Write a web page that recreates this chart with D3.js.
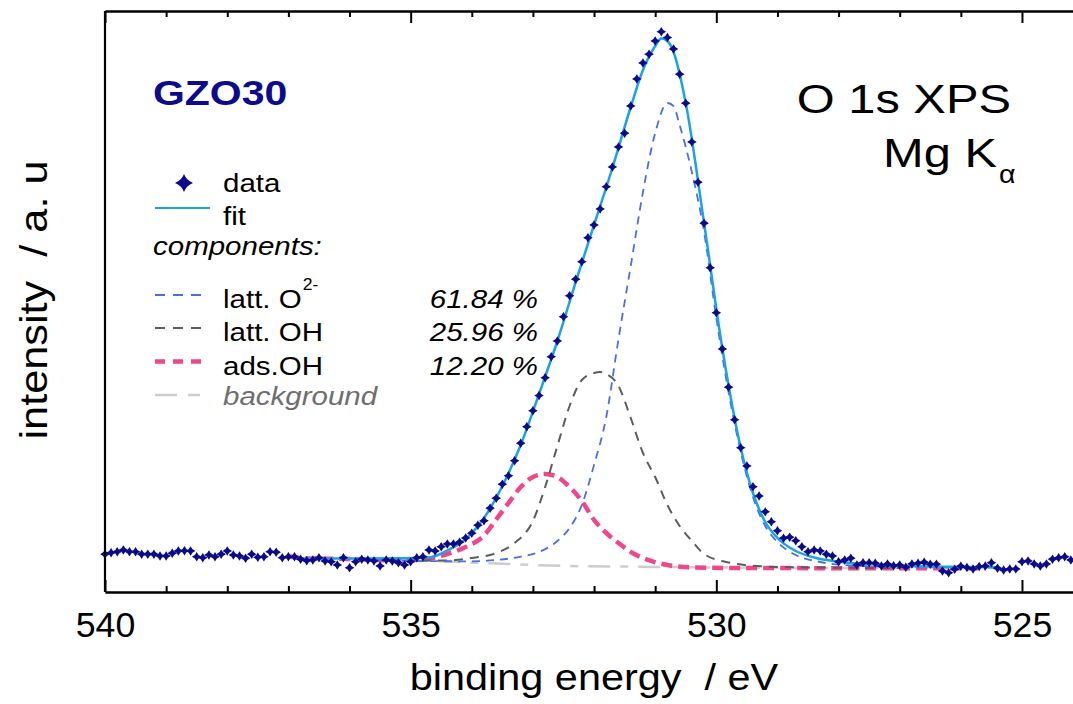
<!DOCTYPE html>
<html>
<head>
<meta charset="utf-8">
<script src="https://cdn.jsdelivr.net/npm/d3@7"></script>
<style>
  body { margin: 0; background: #fff; }
  svg { display: block; }
  text { font-family: "Liberation Sans", Arial, sans-serif; }
</style>
</head>
<body>
<div class="chart"></div>
<script>
// measured spectrum, binding energy in eV, intensity in a.u.
var dataEnergy = [
  540.0,539.9,539.8,539.7,539.6,539.5,539.4,539.3,539.2,539.1,
  539.0,538.9,538.8,538.7,538.6,538.5,538.4,538.3,538.2,538.1,
  538.0,537.9,537.8,537.7,537.6,537.5,537.4,537.3,537.2,537.1,
  537.0,536.9,536.8,536.7,536.6,536.5,536.4,536.3,536.2,536.1,
  536.0,535.9,535.8,535.7,535.6,535.5,535.4,535.3,535.2,535.1,
  535.0,534.9,534.8,534.7,534.6,534.5,534.4,534.3,534.2,534.1,
  534.0,533.9,533.8,533.7,533.6,533.5,533.4,533.3,533.2,533.1,
  533.0,532.9,532.8,532.7,532.6,532.5,532.4,532.3,532.2,532.1,
  532.0,531.9,531.8,531.7,531.6,531.5,531.4,531.3,531.2,531.1,
  531.0,530.9,530.8,530.7,530.6,530.5,530.4,530.3,530.2,530.1,
  530.0,529.9,529.8,529.7,529.6,529.5,529.4,529.3,529.2,529.1,
  529.0,528.9,528.8,528.7,528.6,528.5,528.4,528.3,528.2,528.1,
  528.0,527.9,527.8,527.7,527.6,527.5,527.4,527.3,527.2,527.1,
  527.0,526.9,526.8,526.7,526.6,526.5,526.4,526.3,526.2,526.1,
  526.0,525.9,525.8,525.7,525.6,525.5,525.4,525.3,525.2,525.1,
  525.0,524.9,524.8,524.7,524.6,524.5,524.4,524.3,524.2
];
var dataIntensity = [
  3.77,3.93,4.03,4.20,4.03,4.03,3.77,3.77,3.77,3.60,
  3.60,3.87,4.10,4.13,4.10,3.53,3.43,3.70,3.53,3.77,
  4.10,3.70,3.60,3.37,3.77,3.47,3.53,4.03,3.97,3.43,
  3.53,3.53,3.27,3.13,3.20,3.43,3.10,3.03,2.70,3.43,
  2.43,3.03,3.27,3.20,3.10,2.60,3.20,3.10,2.93,2.70,
  3.03,3.43,3.53,4.20,4.10,4.53,4.80,4.80,4.97,5.40,
  5.87,6.67,7.13,8.37,9.37,10.77,11.63,13.13,14.87,16.53,
  18.13,19.65,21.43,23.53,25.10,27.53,29.63,31.27,33.03,35.43,
  36.70,38.30,40.53,42.50,44.50,45.87,48.60,51.30,52.90,53.77,
  55.10,56.03,55.45,54.30,51.77,48.87,45.00,40.97,36.87,32.43,
  27.93,24.30,20.47,17.23,14.43,12.60,10.53,9.60,8.03,7.03,
  6.13,5.37,5.47,5.13,4.53,4.03,4.20,4.10,3.77,3.60,
  3.03,3.20,3.37,2.70,2.93,2.93,2.87,2.60,2.80,2.63,
  2.70,2.47,2.80,2.87,2.97,2.77,2.77,2.10,1.93,2.27,
  2.57,2.45,2.30,2.55,2.60,2.93,2.37,2.20,2.30,2.30,
  3.03,3.10,2.80,2.60,2.80,3.27,3.43,3.53,3.20
];

// fit envelope
var fitEnergy    = [536.8,536.0,535.2,534.7,534.4,534.1,533.8,533.5,533.2,532.9,532.6,532.3,532.0,531.7,531.4,531.2,531.0,530.9,530.8,530.7,530.5,530.2,529.9,529.6,529.4,529.2,529.0,528.7,528.4,528.0,527.5,527.0,526.0,525.4];
var fitIntensity = [3.35,3.35,3.38,3.45,4.15,5.3,7.4,10.6,14.7,19.8,25.1,31.0,36.7,42.4,48.5,52.2,54.6,55.35,55.1,54.0,48.9,36.9,24.3,14.4,9.9,7.0,5.4,4.1,3.45,3.03,2.77,2.63,2.51,2.47];

// components
var lattOEnergy    = [535.6,534.6,534.0,533.6,533.2,532.9,532.6,532.4,532.2,532.0,531.8,531.6,531.4,531.2,531.0,530.8,530.7,530.6,530.4,530.2,530.0,529.8,529.6,529.4,529.2,529.0,528.7,528.3,527.8,527.0,526.2];
var lattOIntensity = [3.2,3.08,3.07,3.2,3.53,4.0,5.1,6.4,8.7,12.7,17.5,25.3,32.6,40.0,45.9,48.9,48.6,46.7,42.0,36.0,27.4,20.0,14.0,9.5,6.6,5.0,3.7,3.0,2.65,2.5,2.45];

var lattOHEnergy    = [535.6,534.8,534.4,534.0,533.6,533.3,533.0,532.8,532.6,532.4,532.2,532.0,531.9,531.8,531.6,531.4,531.2,531.0,530.8,530.6,530.4,530.2,529.8,529.2,528.4,527.0];
var lattOHIntensity = [3.22,3.15,3.15,3.4,3.9,4.9,7.1,10.5,14.6,18.6,21.2,21.9,22.0,21.8,20.6,17.4,13.9,11.5,8.7,6.6,5.1,3.8,2.95,2.55,2.45,2.4];

var adsOHEnergy    = [537.0,536.6,536.0,535.2,534.8,534.4,534.1,533.8,533.6,533.4,533.2,533.0,532.8,532.6,532.4,532.2,532.0,531.8,531.6,531.4,531.2,530.8,530.4,529.6,525.6];
var adsOHIntensity = [3.55,3.35,3.3,3.15,3.25,3.8,4.5,5.65,7.26,8.9,10.5,11.5,11.8,11.5,10.5,9.1,7.2,5.9,4.9,4.0,3.4,2.7,2.47,2.4,2.37];

var bgEnergy    = [537.0,536.0,535.0,534.4,533.6,533.0,532.4,531.6,530.8,530.0,528.0,525.4];
var bgIntensity = [3.4,3.3,3.15,3.05,2.85,2.7,2.6,2.55,2.5,2.45,2.4,2.4];

var majorTicks = [540, 535, 530, 525];
var minorTicks = [539,538,537,536,534,533,532,531,529,528,527,526,524];

var legendRows = ['latt. O', 'latt. OH', 'ads.OH', 'background'];
var legendShares = ['61.84 %', '25.96 %', '12.20 %'];

var width = 1073, height = 704;
var SX = 1.2; // the reference font runs wider than Arial

var svg = d3.select('.chart')
  .append('svg')
  .attr('width', width)
  .attr('height', height);

var xScale = d3.scaleLinear().domain([540, 524]).range([105, 1083.1]);
var yScale = d3.scaleLinear().domain([0, 58.1]).range([592, 11]);

var zip = (es, is) => es.map((e, i) => ({ e: e, v: is[i] }));

var line = d3.line()
  .x(d => xScale(d.e))
  .y(d => yScale(d.v))
  .curve(d3.curveMonotoneX);

function txt(parent, x, y, str, size, o) {
  o = o || {};
  return parent.append('text')
    .attr('transform', `translate(${x},${y})${o.rotate ? ' rotate(' + o.rotate + ')' : ''} scale(${o.sx || SX},1)`)
    .attr('font-size', size)
    .attr('text-anchor', o.anchor || 'start')
    .attr('font-style', o.italic ? 'italic' : null)
    .attr('font-weight', o.bold ? 'bold' : null)
    .attr('fill', o.fill || '#000')
    .style('white-space', 'pre')
    .text(str);
}

// curves
var colors = { fit: '#1ba1e6', lattO: '#4a6fe3', lattOH: '#5c5c5c', adsOH: '#f0468c', bg: '#cdcdcd', data: '#0a0a8a' };

svg.append('path').attr('d', line(zip(bgEnergy, bgIntensity)))
  .attr('fill', 'none').attr('stroke', colors.bg).attr('stroke-width', 2.5)
  .attr('stroke-dasharray', '22,10,8,10');
svg.append('path').attr('d', line(zip(adsOHEnergy, adsOHIntensity)))
  .attr('fill', 'none').attr('stroke', colors.adsOH).attr('stroke-width', 4.5)
  .attr('stroke-dasharray', '11,6');
svg.append('path').attr('d', line(zip(lattOHEnergy, lattOHIntensity)))
  .attr('fill', 'none').attr('stroke', colors.lattOH).attr('stroke-width', 2)
  .attr('stroke-dasharray', '9,7');
svg.append('path').attr('d', line(zip(lattOEnergy, lattOIntensity)))
  .attr('fill', 'none').attr('stroke', colors.lattO).attr('stroke-width', 1.8)
  .attr('stroke-dasharray', '8,6');
svg.append('path').attr('d', line(zip(fitEnergy, fitIntensity)))
  .attr('fill', 'none').attr('stroke', colors.fit).attr('stroke-width', 2.5);

function star(r) {
  var a = r * 0.28;
  return `M0,${-r}Q${a},${-a} ${r},0Q${a},${a} 0,${r}Q${-a},${a} ${-r},0Q${-a},${-a} 0,${-r}Z`;
}

svg.selectAll('.pt')
  .data(zip(dataEnergy, dataIntensity))
  .enter()
  .append('path')
  .attr('class', 'pt')
  .attr('transform', d => `translate(${xScale(d.e)},${yScale(d.v)})`)
  .attr('d', star(4.8))
  .attr('fill', colors.data);

// axes
var bottomAxis = svg.append('g').attr('transform', 'translate(0,592)');
bottomAxis.call(d3.axisBottom(xScale).tickValues(majorTicks).tickSize(-12).tickSizeOuter(0).tickPadding(20).tickFormat(d3.format('d')));
bottomAxis.append('g').call(d3.axisBottom(xScale).tickValues(minorTicks).tickSize(-6).tickSizeOuter(0).tickFormat(''));

var topAxis = svg.append('g').attr('transform', 'translate(0,11)');
topAxis.call(d3.axisTop(xScale).tickValues(majorTicks).tickSize(-12).tickSizeOuter(0).tickFormat(''));
topAxis.append('g').call(d3.axisTop(xScale).tickValues(minorTicks).tickSize(-6).tickSizeOuter(0).tickFormat(''));

svg.selectAll('.domain').attr('stroke', '#000').attr('stroke-width', 2.2);
svg.selectAll('.tick line').attr('stroke', '#000').attr('stroke-width', 2);
bottomAxis.selectAll('.tick text')
  .attr('font-size', 35)
  .attr('font-family', '"Liberation Sans", Arial, sans-serif')
  .attr('fill', '#000')
  .attr('transform', 'scale(1.02,1)');

svg.append('line')
  .attr('x1', 105).attr('x2', 105).attr('y1', 11).attr('y2', 592)
  .attr('stroke', '#000').attr('stroke-width', 2.2);

// axis titles
txt(svg, 594, 690, 'binding energy  / eV', 37, { anchor: 'middle', sx: 1.12 });
txt(svg, 47, 300, 'intensity  / a. u', 39, { anchor: 'middle', rotate: -90, sx: 1.11 });

// annotations
txt(svg, 1011, 113, 'O 1s XPS', 40, { anchor: 'end', sx: 1.22 });
txt(svg, 997, 167, 'Mg K', 40, { anchor: 'end', sx: 1.22 });
txt(svg, 999, 183, '\u03b1', 26, { sx: 1.1 });
txt(svg, 153, 105, 'GZO30', 35, { bold: true, fill: '#0b0b8e', sx: 1.17 });

// legend
var leg = svg.append('g');
leg.append('path').attr('transform', 'translate(184,183)').attr('d', star(9)).attr('fill', colors.data);
txt(leg, 223, 192, 'data', 25, { sx: 1.18 });
leg.append('line').attr('x1', 155).attr('x2', 210).attr('y1', 208).attr('y2', 208)
  .attr('stroke', colors.fit).attr('stroke-width', 2);
txt(leg, 223, 225, 'fit', 25, { sx: 1.18 });
txt(leg, 153, 255, 'components:', 25, { italic: true, sx: 1.18 });

var rowY = [295, 328, 361.5, 395];
var rowStyle = [
  { c: colors.lattO, w: 2, dash: '10,8' },
  { c: colors.lattOH, w: 2, dash: '10,8' },
  { c: colors.adsOH, w: 4.5, dash: '10,8' },
  { c: colors.bg, w: 2.5, dash: '22,11,12,11' }
];
var firstLabel;
legendRows.forEach((name, i) => {
  var s = rowStyle[i];
  leg.append('line').attr('x1', 155).attr('x2', 202).attr('y1', rowY[i]).attr('y2', rowY[i])
    .attr('stroke', s.c).attr('stroke-width', s.w).attr('stroke-dasharray', s.dash);
  var bg = i === 3;
  var t = txt(leg, 223, rowY[i] + (bg ? 10 : 13), name, 25, { sx: 1.18, italic: bg, fill: bg ? '#6e6e6e' : '#000' });
  if (i === 0) firstLabel = t;
  if (i < legendShares.length) {
    txt(leg, 538, rowY[i] + 13, legendShares[i], 25, { anchor: 'end', italic: true, sx: 1.18 });
  }
});
// superscript sits right after "latt. O"
var supX = 223 + firstLabel.node().getComputedTextLength() * 1.18 + 1;
txt(leg, supX, 290, '2-', 16, { sx: 1.1 });
</script>
</body>
</html>
